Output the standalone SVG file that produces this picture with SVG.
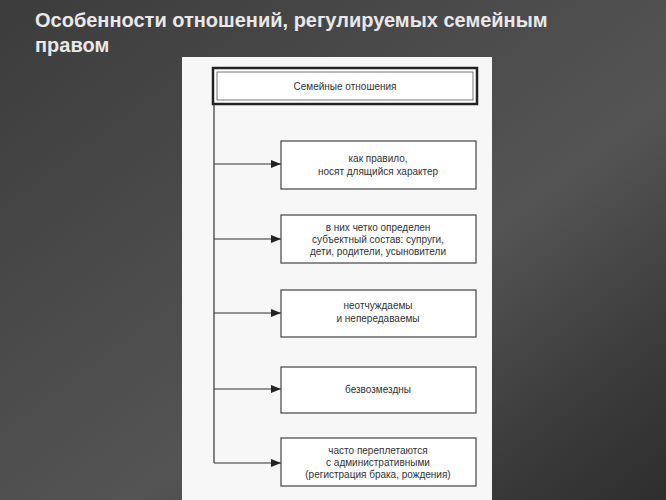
<svg xmlns="http://www.w3.org/2000/svg" width="666" height="500" viewBox="0 0 666 500">
<defs>
<linearGradient id="bg" x1="0" y1="0" x2="1" y2="1">
<stop offset="0" stop-color="#3c3c3c"/>
<stop offset="0.35" stop-color="#4a4a4a"/>
<stop offset="0.6" stop-color="#545454"/>
<stop offset="0.85" stop-color="#3a3a3a"/>
<stop offset="1" stop-color="#2e2e2e"/>
</linearGradient>
<marker id="ar" markerWidth="10" markerHeight="8" refX="10" refY="4" orient="auto" markerUnits="userSpaceOnUse">
<path d="M0,0 L10,4 L0,8 z" fill="#222"/>
</marker>
</defs>
<style>
.t{font-family:"Liberation Sans",Arial,sans-serif;font-size:10px;fill:#333;text-anchor:middle}
.b{fill:#fff;stroke:#444;stroke-width:1.2}
.c{stroke:#333;stroke-width:1.2;fill:none}
.h{font-family:"Liberation Sans",Arial,sans-serif;font-size:20px;font-weight:bold;fill:#e8e8e8}
</style>
<rect width="666" height="500" fill="url(#bg)"/>
<text class="h" x="35" y="27">Особенности отношений, регулируемых семейным</text>
<text class="h" x="35" y="52">правом</text>
<rect x="182" y="57" width="310" height="443" fill="#f7f7f7"/>
<g id="header">
<rect x="213" y="68" width="264" height="36" fill="#fff" stroke="#222" stroke-width="2.5"/>
<rect x="217" y="72" width="256" height="28" fill="none" stroke="#555" stroke-width="0.8"/>
<text class="t" x="345" y="90">Семейные отношения</text>
</g>
<g id="connectors">
<path class="c" d="M214,104 V463"/>
<path class="c" d="M214,164 H281" marker-end="url(#ar)"/>
<path class="c" d="M214,239 H281" marker-end="url(#ar)"/>
<path class="c" d="M214,313 H281" marker-end="url(#ar)"/>
<path class="c" d="M214,389 H281" marker-end="url(#ar)"/>
<path class="c" d="M214,463 H281" marker-end="url(#ar)"/>
</g>
<g id="n1"><rect class="b" x="281" y="141" width="195" height="48"/>
<text class="t" x="378" y="162">как правило,</text><text class="t" x="378" y="175">носят длящийся характер</text></g>
<g id="n2"><rect class="b" x="281" y="215" width="195" height="48"/>
<text class="t" x="378" y="231">в них четко определен</text><text class="t" x="378" y="243">субъектный состав: супруги,</text><text class="t" x="378" y="255">дети, родители, усыновители</text></g>
<g id="n3"><rect class="b" x="281" y="290" width="195" height="47"/>
<text class="t" x="378" y="309">неотчуждаемы</text><text class="t" x="378" y="322">и непередаваемы</text></g>
<g id="n4"><rect class="b" x="281" y="367" width="195" height="46"/>
<text class="t" x="378" y="393">безвозмездны</text></g>
<g id="n5"><rect class="b" x="281" y="438" width="195" height="48"/>
<text class="t" x="378" y="454">часто переплетаются</text><text class="t" x="378" y="466">с административными</text><text class="t" x="378" y="478">(регистрация брака, рождения)</text></g>
</svg>
